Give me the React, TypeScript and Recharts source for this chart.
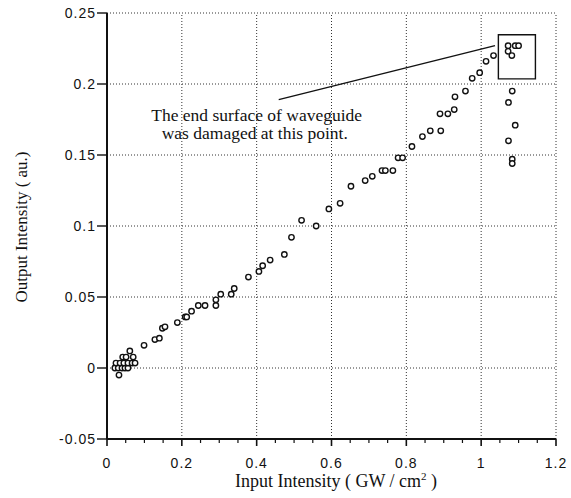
import {
  ScatterChart,
  Scatter,
  XAxis,
  YAxis,
  ReferenceLine,
  ReferenceArea,
  ReferenceDot,
} from "recharts";

// input intensity (GW/cm^2) and output intensity (a.u.)
const inputIntensity = [
  0.032, 0.021, 0.03, 0.04, 0.048, 0.056, 0.024, 0.035, 0.045, 0.056, 0.067,
  0.075, 0.042, 0.051, 0.07, 0.061, 0.099, 0.128, 0.14, 0.148, 0.155, 0.188,
  0.209, 0.213, 0.226, 0.244, 0.262, 0.291, 0.291, 0.304, 0.332, 0.34, 0.378,
  0.406, 0.416, 0.436, 0.474, 0.493, 0.52, 0.559, 0.593, 0.623, 0.652, 0.69,
  0.709, 0.735, 0.744, 0.764, 0.778, 0.79, 0.815, 0.843, 0.864, 0.892, 0.89,
  0.911, 0.928, 0.93, 0.958, 0.976, 0.996, 1.013, 1.033, 1.072, 1.091, 1.1,
  1.072, 1.082, 1.083, 1.073, 1.091, 1.073, 1.083, 1.083,
];
const outputIntensity = [
  -0.005, 0, 0, 0, 0, 0, 0.0035, 0.0035, 0.0035, 0.0035, 0.0035, 0.0035,
  0.0077, 0.0077, 0.0077, 0.012, 0.016, 0.02, 0.021, 0.028, 0.029, 0.032,
  0.036, 0.036, 0.04, 0.044, 0.044, 0.044, 0.048, 0.052, 0.052, 0.056, 0.064,
  0.068, 0.072, 0.076, 0.08, 0.092, 0.104, 0.1, 0.112, 0.116, 0.128, 0.132,
  0.135, 0.139, 0.139, 0.139, 0.148, 0.148, 0.156, 0.163, 0.167, 0.167, 0.179,
  0.179, 0.182, 0.191, 0.195, 0.204, 0.208, 0.216, 0.22, 0.227, 0.227, 0.227,
  0.223, 0.22, 0.195, 0.187, 0.171, 0.16, 0.147, 0.144,
];

const xTicks = [
  0, 0.05, 0.1, 0.15, 0.2, 0.25, 0.3, 0.35, 0.4, 0.45, 0.5, 0.55, 0.6, 0.65,
  0.7, 0.75, 0.8, 0.85, 0.9, 0.95, 1, 1.05, 1.1, 1.15, 1.2,
];
const xGrid = [0.2, 0.4, 0.6, 0.8, 1, 1.2];
const yTicks = [-0.05, 0, 0.05, 0.1, 0.15, 0.2, 0.25];
const yGrid = [0, 0.05, 0.1, 0.15, 0.2, 0.25];

const annotation = ["The end surface of waveguide", "was damaged at this point."];

const data = inputIntensity.map((x, i) => ({ x, y: outputIntensity[i] }));

const INK = "#111";
const SANS = "'Liberation Sans', Arial, sans-serif";
const SERIF = "'Liberation Serif', 'Times New Roman', serif";

const XTick = (props: any) => {
  const { x, y, payload } = props;
  const v = payload.value as number;
  const major = Math.abs(v * 5 - Math.round(v * 5)) < 1e-6;
  return (
    <g>
      <line
        x1={x}
        x2={x}
        y1={y}
        y2={y + (major ? 7 : 4)}
        stroke={INK}
        strokeWidth={major ? 1.6 : 1.2}
      />
      {major && (
        <text
          x={x}
          y={y + 29}
          textAnchor="middle"
          fontFamily={SANS}
          fontSize={14}
          letterSpacing={1}
          fill={INK}
        >
          {String(+v.toFixed(2))}
        </text>
      )}
    </g>
  );
};

const YTick = (props: any) => {
  const { x, y, payload } = props;
  const v = payload.value as number;
  return (
    <g>
      <line x1={x - 10} x2={x} y1={y} y2={y} stroke={INK} strokeWidth={1.4} />
      <text
        x={x - 11}
        y={y + 5}
        textAnchor="end"
        fontFamily={SANS}
        fontSize={14}
        letterSpacing={1}
        fill={INK}
      >
        {String(+v.toFixed(2))}
      </text>
    </g>
  );
};

const App = () => {
  return (
    <div style={{ position: "absolute", left: 0, top: 0, width: 571, height: 498, background: "#fff" }}>
      <ScatterChart
        width={571}
        height={498}
        margin={{ top: 13, right: 15, bottom: 0, left: 0 }}
      >
        <XAxis
          type="number"
          dataKey="x"
          domain={[0, 1.2]}
          ticks={xTicks}
          interval={0}
          height={59}
          tickSize={0}
          tickMargin={0}
          tickLine={false}
          tick={<XTick />}
          axisLine={{ stroke: INK, strokeWidth: 2 }}
          allowDataOverflow
        />
        <YAxis
          type="number"
          dataKey="y"
          domain={[-0.05, 0.25]}
          ticks={yTicks}
          interval={0}
          width={107}
          tickSize={0}
          tickMargin={0}
          tickLine={false}
          tick={<YTick />}
          axisLine={{ stroke: INK, strokeWidth: 2 }}
          allowDataOverflow
        />
        {xGrid.map((v) => (
          <ReferenceLine
            key={"gx" + v}
            x={v}
            stroke="#333"
            strokeWidth={1}
            strokeDasharray="1 2"
          />
        ))}
        {yGrid.map((v) => (
          <ReferenceLine
            key={"gy" + v}
            y={v}
            stroke="#333"
            strokeWidth={1}
            strokeDasharray="1 2"
          />
        ))}
        <ReferenceLine
          segment={[
            { x: 0.459, y: 0.189 },
            { x: 1.037, y: 0.227 },
          ]}
          stroke={INK}
          strokeWidth={1.4}
        />
        <ReferenceArea
          x1={1.046}
          x2={1.145}
          y1={0.2036}
          y2={0.2347}
          fill="none"
          fillOpacity={0}
          stroke={INK}
          strokeWidth={1.4}
        />
        <ReferenceDot
          x={0.4}
          y={0.174}
          r={0}
          ifOverflow="visible"
          shape={(p: any) => (
            <text
              x={p.cx}
              y={p.cy}
              textAnchor="middle"
              fontFamily={SERIF}
              fontSize={17.5}
              fill={INK}
            >
              {annotation[0]}
            </text>
          )}
        />
        <ReferenceDot
          x={0.395}
          y={0.1613}
          r={0}
          ifOverflow="visible"
          shape={(p: any) => (
            <text
              x={p.cx}
              y={p.cy}
              textAnchor="middle"
              fontFamily={SERIF}
              fontSize={17.5}
              fill={INK}
            >
              {annotation[1]}
            </text>
          )}
        />
        <Scatter
          data={data}
          isAnimationActive={false}
          shape={(p: any) => (
            <circle
              cx={p.cx}
              cy={p.cy}
              r={2.7}
              fill="#fff"
              stroke={INK}
              strokeWidth={1.4}
            />
          )}
        />
      </ScatterChart>
      <svg
        width={571}
        height={498}
        style={{ position: "absolute", left: 0, top: 0, pointerEvents: "none" }}
      >
        <text
          x={336}
          y={487}
          textAnchor="middle"
          fontFamily={SERIF}
          fontSize={18}
          fill={INK}
        >
          Input Intensity ( GW / cm
          <tspan fontSize={11} dy={-7}>
            2
          </tspan>
          <tspan dy={7}> )</tspan>
        </text>
        <text
          x={0}
          y={0}
          transform="translate(27 227) rotate(-90)"
          textAnchor="middle"
          fontFamily={SERIF}
          fontSize={17}
          fill={INK}
        >
          Output Intensity ( au.)
        </text>
      </svg>
    </div>
  );
};

export default App;
